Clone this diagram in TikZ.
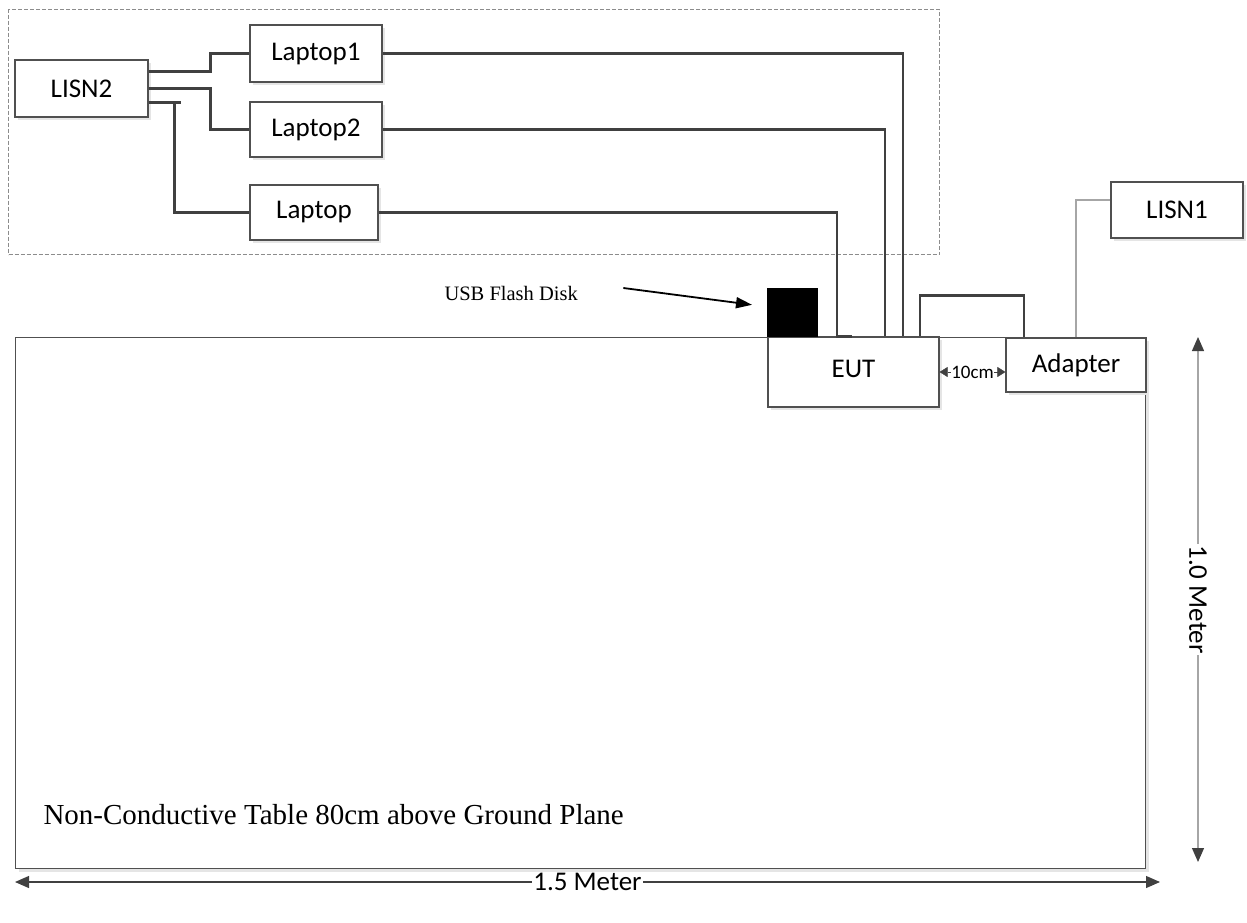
\documentclass[tikz,border=0pt]{standalone}
\usepackage{fontspec}
\setmainfont{Liberation Serif}
\newfontfamily\calibri{Carlito}
\usepackage{tikz}
\usetikzlibrary{arrows.meta,shadows}

\definecolor{wiregray}{HTML}{404040}
\definecolor{edgegray}{HTML}{505050}
\definecolor{dashgray}{HTML}{8C8C8C}
\definecolor{leadgray}{HTML}{A6A6A6}

\begin{document}
\begin{tikzpicture}[x=1pt, y=-1pt, every node/.style={font=\calibri\fontsize{27}{32}\selectfont},
	box/.style={draw=edgegray, line width=1.2pt, fill=white, inner sep=0pt, drop shadow={shadow xshift=3pt, shadow yshift=-3pt, fill=black!10, opacity=1}},
	wire/.style={wiregray, line width=2.5pt},
	dimarrow/.style={{Triangle[length=14pt,width=12pt,color=wiregray]}-{Triangle[length=14pt,width=12pt,color=wiregray]}, wiregray, line width=1.2pt},
	>={Triangle[length=16pt,width=11pt]}]
	\useasboundingbox (0,0) rectangle (1247,923);
	% table and the dashed area of the support PCs
	\node[box, minimum width=1130pt, minimum height=531pt, anchor=north west] (table) at (15,337) {};
	\node[anchor=west, font=\fontsize{29}{34}\selectfont] (tabletext) at (40,815) {Non-Conductive Table 80cm above Ground Plane};
	\node[draw=dashgray, line width=1.2pt, dash pattern=on 4pt off 2pt, minimum width=931pt, minimum height=245pt, anchor=north west] (pcarea) at (8,9) {};
	\node[box, minimum width=133pt, minimum height=57pt] (lisn2) at (81.5,88.5) {LISN2};
	\node[box, minimum width=132pt, minimum height=57pt] (lap1) at (316,53.5) {Laptop1};
	\node[box, minimum width=132pt, minimum height=55pt] (lap2) at (316,129.5) {Laptop2};
	\node[box, minimum width=128pt, minimum height=55pt] (lap) at (314,212.5) {Laptop};
	\node[box, minimum width=132pt, minimum height=56pt] (lisn1) at (1177,210) {LISN1};
	\node[box, minimum width=171pt, minimum height=70pt] (eut) at (853.5,372) {\raisebox{7pt}{EUT}};
	\node[box, minimum width=140pt, minimum height=54pt] (adapter) at (1076,365) {Adapter};
	\node[fill=black, minimum width=51pt, minimum height=49pt, inner sep=0pt, anchor=south west] (usb) at (767,337) {};
	\node[anchor=west, font=\fontsize{20.5}{24}\selectfont] (usbtext) at (441,293) {USB Flash Disk};
	% cables
	\draw[wire] ([yshift=17pt]lisn2.east) -- ++(62,0) |- (lap1.west);
	\draw[wire] (lisn2.east) -- ++(62,0) |- (lap2.west);
	\draw[wire] ([yshift=-14pt]lisn2.east) -- ++(32,0);
	\draw[wire] ([yshift=-14pt]lisn2.east) -| ([xshift=-75pt]lap.west) -- (lap.west);
	\draw[wire] (lap1.east) -| ([xshift=49.5pt]eut.north);
	\draw[wire] (lap2.east) -| ([xshift=31.5pt]eut.north);
	\draw[wire] (lap.east) -| ([xshift=-16.5pt]eut.north) -- ++(15,0);
	\draw[wire] ([xshift=66.5pt]eut.north) -- ++(0,-41) -| ([xshift=-52pt]adapter.north);
	\draw[leadgray, line width=1.5pt] (adapter.north) |- ([yshift=10pt]lisn1.west);
	\draw[->, line width=1.8pt] ([xshift=42pt,yshift=5pt]usbtext.east) -- ([xshift=-15pt,yshift=7.5pt]usb.west);
	% dimensions
	\draw[{Triangle[length=8pt,width=10pt]}-{Triangle[length=8pt,width=10pt]}, wiregray] (eut.east) -- node[fill=white, inner sep=0pt, text=black, font=\calibri\fontsize{19}{22}\selectfont] {10cm} (eut.east -| adapter.west);
	\coordinate (vtop) at (1198,337);
	\coordinate (vbot) at (1198,862);
	\draw[dimarrow, draw=leadgray] (vtop) -- node[fill=white, text=black, rotate=-90, inner sep=1pt] {1.0 Meter} (vbot);
	\coordinate (hleft) at (15,882);
	\coordinate (hright) at (1160,882);
	\draw[dimarrow] (hleft) -- node[fill=white, text=black, inner sep=1pt] {1.5 Meter} (hright);
\end{tikzpicture}
\end{document}
